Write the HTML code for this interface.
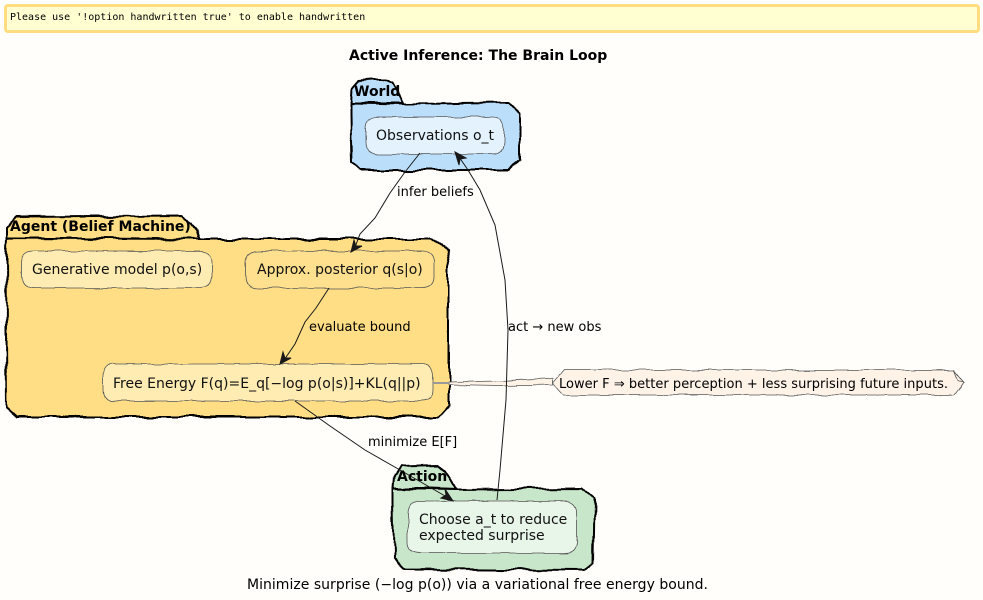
<!DOCTYPE html>
<html><head><meta charset="utf-8"><style>
html,body{margin:0;padding:0;background:#FFFEFA;}
svg{display:block;}
text{font-family:"DejaVu Sans",sans-serif;fill:#000;}
.n{font-size:14px;fill:#111;}
.l{font-size:13px;fill:#000;}
.b{font-size:14px;font-weight:bold;}
.pk{stroke:#000;stroke-width:2;stroke-linejoin:round;}
.nd{stroke:#555;stroke-width:.8;}
.c{fill:none;stroke:#181818;stroke-width:1;}
.a{fill:#181818;stroke:#181818;stroke-width:1;}
</style></head><body>
<svg width="983" height="600" viewBox="0 0 983 600" xmlns="http://www.w3.org/2000/svg">
<defs>
<filter id="p" filterUnits="userSpaceOnUse" x="0" y="0" width="983" height="600" color-interpolation-filters="sRGB">
<feTurbulence type="fractalNoise" baseFrequency="0.05" numOctaves="1" seed="7" result="t"/>
<feDisplacementMap in="SourceGraphic" in2="t" scale="8" xChannelSelector="R" yChannelSelector="G"/>
</filter>
<filter id="w" filterUnits="userSpaceOnUse" x="0" y="0" width="983" height="600" color-interpolation-filters="sRGB">
<feTurbulence type="fractalNoise" baseFrequency="0.06" numOctaves="1" seed="4" result="t"/>
<feDisplacementMap in="SourceGraphic" in2="t" scale="5" xChannelSelector="R" yChannelSelector="G"/>
</filter>
</defs>
<rect width="983" height="600" fill="#FFFEFA"/>
<rect x="5.5" y="5.5" width="973" height="26" rx="2.5" fill="#FFFFD2" stroke="#FFDD80" stroke-width="3"/>

<g filter="url(#p)">
<!-- World -->
<path class="pk" fill="#BBDEFB" d="M350 103 L351 89 L358 81 L372 80 L386 80 L393 83 L398 92 L404 104 L402 103 L350 103Z"/>
<path class="pk" fill="#BBDEFB" d="M350 103 L404 104 L510 103 L520 113 L520 160 L510 170 L360 170 L351 162 L350 115Z"/>
<!-- Agent -->
<path class="pk" fill="#FFDE85" d="M7 238 L7 227 L15 217 L182 216 L191 222 L196 230 L199 239 L100 238Z"/>
<path class="pk" fill="#FFDE85" d="M7 238 L199 239 L432 239 L447 249 L449 262 L449 405 L438 417 L17 417 L7 408 L6 258Z"/>
<!-- Action -->
<path class="pk" fill="#C8E6C9" d="M393 488 L394 478 L402 466 L438 465 L445 471 L451 480 L456 489 L430 488Z"/>
<path class="pk" fill="#C8E6C9" d="M393 488 L456 489 L582 488 L595 499 L594 562 L583 570 L405 569 L394 558 L393 502Z"/>
</g>
<g filter="url(#w)">
<path class="nd" fill="#E3F2FD" d="M378 117 H492 Q504 117 504 129 V142 Q504 154 492 154 H378 Q366 154 366 142 V129 Q366 117 378 117Z"/>
<path class="nd" fill="#FFECB3" d="M34 251 H200 Q212 251 212 263 V276 Q212 288 200 288 H34 Q22 288 22 276 V263 Q22 251 34 251Z"/>
<path class="nd" fill="#FFE08F" d="M258 251 H422 Q434 251 434 263 V276 Q434 288 422 288 H258 Q246 288 246 276 V263 Q246 251 258 251Z"/>
<path class="nd" fill="#FFECB3" d="M115 364 H421 Q433 364 433 376 V389 Q433 401 421 401 H115 Q103 401 103 389 V376 Q103 364 115 364Z"/>
<path class="nd" fill="#E8F5E9" d="M420 501 H565 Q577 501 577 513 V541 Q577 553 565 553 H420 Q408 553 408 541 V513 Q408 501 420 501Z"/>
<!-- Note -->
<path class="nd" fill="#FFF3E8" d="M449 382 L500 381 L553 378 L553 383 L553 385 L500 386 L449 385Z"/>
<path class="nd" fill="#FFF3E8" d="M553 383 L564 370 H954 L964 382 L954 395 H564Z"/>
<path class="nd" fill="#FFF3E8" d="M954 370 L964 382 L958 380Z"/>
</g>
<path d="M433 383 L449 383" fill="none" stroke="#999" stroke-width="2"/>

<!-- Connectors -->
<path class="c" d="M420 153 L405 172 L390 193 L375 218 L360 234 L354 250"/>
<path class="a" d="M351 252 L354 240 L356 246 L362 246Z"/>
<path class="c" d="M329 288 L316 308 L305 322 L295 344 L282 363"/>
<path class="a" d="M280 364 L283 352 L285 358 L291 358Z"/>
<path class="c" d="M295 401 L330 426 L365 450 L400 470 L452 500"/>
<path class="a" d="M453 501 L441 498 L446 495 L445 489Z"/>
<path class="c" d="M497 500 L500 470 L506 400 L508 330 L505 280 L495 225 L480 190 L468 170 L457 154"/>
<path class="a" d="M455 152 L466 158 L460 159 L459 165Z"/>

<!-- Text -->
<text x="10" y="20" style="font-family:'DejaVu Sans Mono',monospace;font-size:10px">Please use '!option handwritten true' to enable handwritten</text>
<text x="349" y="60" class="b">Active Inference: The Brain Loop</text>
<text x="354" y="96" class="b">World</text>
<text x="376" y="140" class="n">Observations o_t</text>
<text x="10" y="231" class="b">Agent (Belief Machine)</text>
<text x="32" y="274" class="n">Generative model p(o,s)</text>
<text x="257" y="274" class="n">Approx. posterior q(s|o)</text>
<text x="113" y="388" class="n">Free Energy F(q)=E_q[−log p(o|s)]+KL(q||p)</text>
<text x="397" y="481" class="b">Action</text>
<text x="419" y="524" class="n">Choose a_t to reduce</text>
<text x="419" y="540" class="n">expected surprise</text>
<text x="559" y="388" style="font-size:13px" textLength="389">Lower F ⇒ better perception + less surprising future inputs.</text>
<text x="397" y="196" class="l">infer beliefs</text>
<text x="309" y="331" class="l">evaluate bound</text>
<text x="368" y="446" class="l">minimize E[F]</text>
<text x="508" y="331" class="l">act → new obs</text>
<text x="247" y="589" style="font-size:14px" textLength="461">Minimize surprise (−log p(o)) via a variational free energy bound.</text>
</svg>
</body></html>
